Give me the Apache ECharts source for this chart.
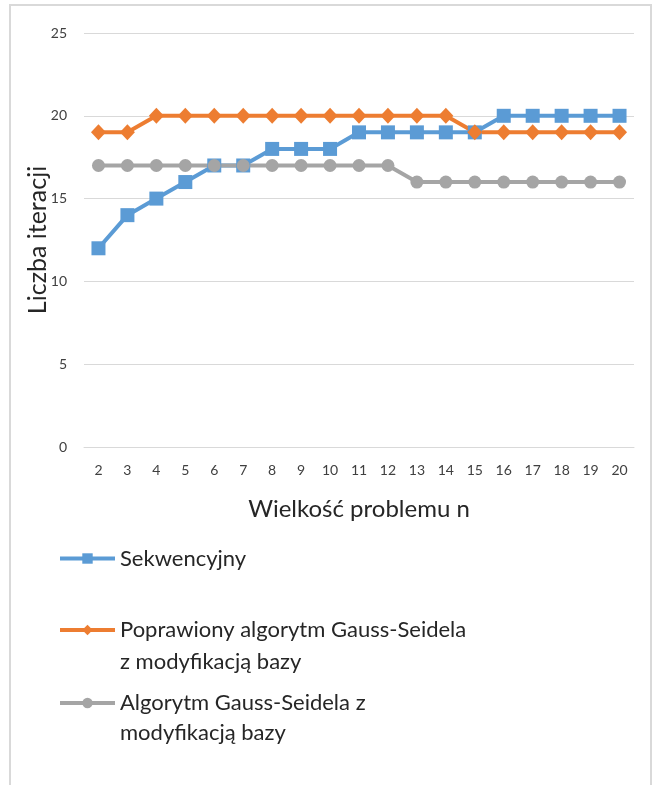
<!DOCTYPE html>
<html>
<head>
<meta charset="utf-8">
<script src="https://cdn.jsdelivr.net/npm/echarts@6/dist/echarts.min.js"></script>
<style>
  html, body { margin: 0; padding: 0; background: #fff; }
  #chart { width: 655px; height: 785px; }
</style>
</head>
<body>
<div id="chart"></div>
<script>
var categories = ["2","3","4","5","6","7","8","9","10","11","12","13","14","15","16","17","18","19","20"];
var seriesNames = [
  "Sekwencyjny",
  "Poprawiony algorytm Gauss-Seidela z modyfikacją bazy",
  "Algorytm Gauss-Seidela z modyfikacją bazy"
];
// leading empty line keeps the icon level with the first text line
var legendLabels = [
  "Sekwencyjny",
  "\nPoprawiony algorytm Gauss-Seidela\nz modyfikacją bazy",
  "\nAlgorytm Gauss-Seidela z\nmodyfikacją bazy"
];
var sekwencyjny = [12,14,15,16,17,17,18,18,18,19,19,19,19,19,20,20,20,20,20];
var poprawiony  = [19,19,20,20,20,20,20,20,20,20,20,20,20,19,19,19,19,19,19];
var algorytm    = [17,17,17,17,17,17,17,17,17,17,17,16,16,16,16,16,16,16,16];

var font = "Lato, 'Open Sans', sans-serif";
var colors = ['#5B9BD5', '#ED7D31', '#A5A5A5'];

function makeLegend(i, top, lh) {
  return {
    orient: 'vertical',
    left: 58,
    top: top,
    padding: 0,
    itemWidth: 55,
    itemHeight: 13,
    itemGap: 0,
    data: [seriesNames[i]],
    formatter: function () { return legendLabels[i]; },
    lineStyle: { width: 4 },
    textStyle: {
      fontFamily: font,
      fontSize: 22,
      color: '#262626',
      lineHeight: lh
    }
  };
}

var option = {
  animation: false,
  color: colors,
  graphic: [{
    type: 'rect',
    shape: { x: 10, y: 5, width: 641, height: 800 },
    style: { fill: 'none', stroke: '#D9D9D9', lineWidth: 2 },
    silent: true
  }],
  grid: { left: 84, right: 21, top: 33, bottom: 338 },
  legend: [
    makeLegend(0, 543, 31),
    makeLegend(1, 582, 32),
    makeLegend(2, 658, 30)
  ],
  xAxis: {
    type: 'category',
    data: categories,
    boundaryGap: true,
    name: 'Wielkość problemu n',
    nameLocation: 'middle',
    nameGap: 50,
    nameTextStyle: { fontFamily: font, fontSize: 24, color: '#262626' },
    axisLine: { lineStyle: { color: '#D9D9D9', width: 1 } },
    axisTick: { show: false },
    axisLabel: { fontFamily: font, fontSize: 14, color: '#404040', margin: 16 }
  },
  yAxis: {
    type: 'value',
    min: 0,
    max: 25,
    interval: 5,
    name: 'Liczba iteracji',
    nameLocation: 'middle',
    nameGap: 34,
    nameMoveOverlap: false,
    nameTextStyle: { fontFamily: font, fontSize: 25, color: '#262626' },
    axisLine: { show: false },
    axisTick: { show: false },
    axisLabel: { fontFamily: font, fontSize: 14, color: '#404040', margin: 17 },
    splitLine: { lineStyle: { color: '#D9D9D9', width: 1 } }
  },
  series: [
    {
      name: seriesNames[0],
      type: 'line',
      data: sekwencyjny,
      symbol: 'rect',
      symbolSize: 14,
      lineStyle: { width: 4 },
      itemStyle: { color: colors[0] }
    },
    {
      name: seriesNames[1],
      type: 'line',
      data: poprawiony,
      symbol: 'diamond',
      symbolSize: [15, 16],
      lineStyle: { width: 4 },
      itemStyle: { color: colors[1] }
    },
    {
      name: seriesNames[2],
      type: 'line',
      data: algorytm,
      symbol: 'circle',
      symbolSize: 13,
      lineStyle: { width: 4 },
      itemStyle: { color: colors[2] }
    }
  ]
};

var chart = echarts.init(document.getElementById('chart'));
chart.setOption(option);
</script>
</body>
</html>
